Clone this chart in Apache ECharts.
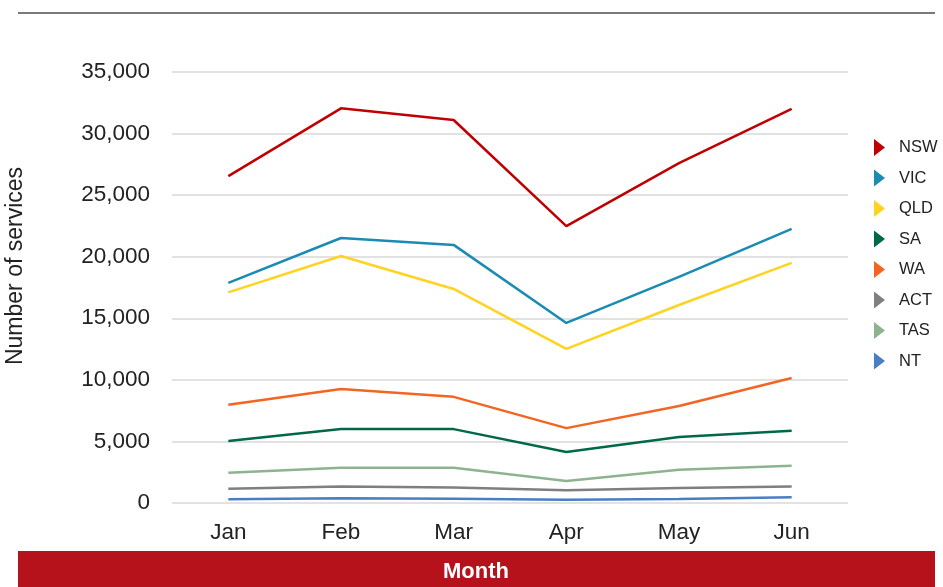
<!DOCTYPE html>
<html lang="en">
  <head>
    <meta charset="UTF-8" />
    <title>Number of services by month</title>
    <script src="https://cdn.jsdelivr.net/npm/echarts@6/dist/echarts.min.js"></script>
    <style>
      html, body { margin: 0; padding: 0; background: #fff; }
      #chart { width: 943px; height: 587px; }
    </style>
  </head>
  <body>
    <div id="chart"></div>
    <script>
      const months = ["Jan", "Feb", "Mar", "Apr", "May", "Jun"];
      const yTicks = [0, 5000, 10000, 15000, 20000, 25000, 30000, 35000];

      const nsw = [26550, 32050, 31100, 22480, 27600, 32000];
      const vic = [17870, 21520, 20960, 14620, 18360, 22260];
      const qld = [17100, 20060, 17380, 12520, 16080, 19500];
      const sa = [5040, 6000, 6000, 4140, 5360, 5860];
      const wa = [7980, 9260, 8620, 6080, 7880, 10150];
      const act = [1160, 1330, 1250, 1030, 1220, 1330];
      const tas = [2460, 2870, 2870, 1780, 2700, 3030];
      const nt = [300, 380, 350, 270, 330, 460];

      const seriesDefs = [
        { name: "NSW", data: nsw, color: "#c00000" },
        { name: "VIC", data: vic, color: "#1a8bb3" },
        { name: "QLD", data: qld, color: "#ffd31f" },
        { name: "SA", data: sa, color: "#00684a" },
        { name: "WA", data: wa, color: "#f26522" },
        { name: "ACT", data: act, color: "#7f7f80" },
        { name: "TAS", data: tas, color: "#8db48e" },
        { name: "NT", data: nt, color: "#4a7ec4" }
      ];

      const chart = echarts.init(document.getElementById("chart"));
      const font = "'Liberation Sans', Arial, sans-serif";

      chart.setOption({
        animation: false,
        textStyle: { fontFamily: font },
        grid: { left: 172, right: 95, top: 72, bottom: 84, outerBoundsMode: "none", containLabel: false },
        legend: {
          orient: "vertical",
          left: 869,
          top: 134,
          itemWidth: 11,
          itemHeight: 17,
          itemGap: 13.5,
          icon: "path://M0,0 L11,8.5 L0,17 Z",
          textStyle: { fontSize: 16.5, color: "#222", fontFamily: font, padding: [0, 0, 0, 9] },
          data: seriesDefs.map(s => s.name)
        },
        xAxis: {
          type: "category",
          data: months,
          boundaryGap: true,
          axisLine: { show: false },
          axisTick: { show: false },
          axisLabel: { fontSize: 22.5, color: "#222", margin: 18, fontFamily: font }
        },
        yAxis: {
          type: "value",
          min: yTicks[0],
          max: yTicks[yTicks.length - 1],
          interval: 5000,
          axisLine: { show: false },
          axisTick: { show: false },
          axisLabel: {
            fontSize: 22.5,
            color: "#222",
            margin: 22,
            fontFamily: font,
            formatter: v => v.toLocaleString("en-US")
          },
          splitLine: { lineStyle: { color: "#d9d9d9", width: 1.5 } }
        },
        graphic: [
          {
            type: "rect",
            left: 18,
            top: 12,
            shape: { width: 917, height: 2 },
            style: { fill: "#7a7a7a" }
          },
          {
            type: "rect",
            left: 18,
            top: 551,
            shape: { width: 917, height: 36 },
            style: { fill: "#b5121b" }
          },
          {
            type: "text",
            x: 476,
            y: 572,
            style: {
              text: "Month",
              fill: "#fff",
              font: "bold 22px " + font,
              align: "center",
              verticalAlign: "middle"
            }
          },
          {
            // y axis title
            type: "text",
            x: 16,
            y: 266,
            rotation: Math.PI / 2,
            style: {
              text: "Number of services",
              fill: "#222",
              font: "23px " + font,
              align: "center",
              verticalAlign: "middle"
            }
          }
        ],
        series: seriesDefs.map(s => ({
          name: s.name,
          type: "line",
          data: s.data,
          showSymbol: false,
          symbol: "none",
          lineStyle: { width: 2.5, color: s.color },
          itemStyle: { color: s.color }
        }))
      });
    </script>
  </body>
</html>
